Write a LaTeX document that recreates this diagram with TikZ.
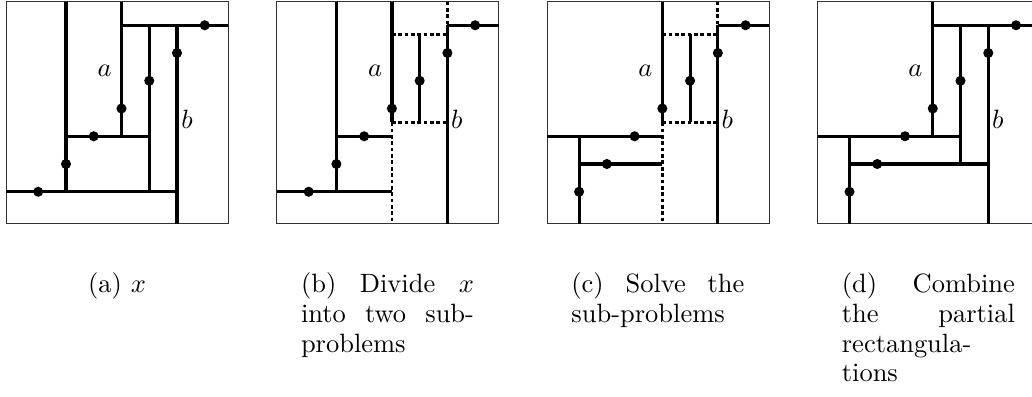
\documentclass[tikz,border=0pt]{standalone}
\newcommand\mycap[1]{\parbox[t]{65.36pt}{\fontsize{10}{11.2}\selectfont\tolerance=10000\hbadness=10000\hyphenpenalty=10000\exhyphenpenalty=10000 #1}}
\begin{document}
\begin{tikzpicture}[x=10.484pt,y=10.484pt,
  frame/.style={line width=0.5pt,draw=black!80},
  seg/.style={line width=1.2pt},
  cut/.style={line width=1.05pt,dash pattern=on 1.4pt off 1.0pt},
  lbl/.style={inner sep=0pt,font=\fontsize{10}{11.2}\selectfont},
  captext/.style={anchor=base west,inner sep=0pt},
  dotr/.style={fill=black}]
\useasboundingbox (0,0) rectangle (37.189,14.270);

% ---------- panel (a)
\begin{scope}[shift={(0.378,6.360)}]
 \draw[frame] (-0.15,-0.15) rectangle (7.85,7.85);
 \draw[seg] (2,7.85) -- (2,1);
 \draw[seg] (4,7.85) -- (4,3);
 \draw[seg] (4,7) -- (7.85,7);
 \draw[seg] (5,7) -- (5,1);
 \draw[seg] (6,7) -- (6,-0.15);
 \draw[seg] (2,3) -- (5,3);
 \draw[seg] (-0.15,1) -- (6,1);
 \foreach \i in {1,...,7} \fill[dotr] (\i,\i) circle[radius=1.9pt];
 \node[lbl] (aA) at (3.39,5.36) {$a$};
 \node[lbl] (aB) at (6.36,3.61) {$b$};
\end{scope}

% ---------- panel (b)
\begin{scope}[shift={(10.123,6.360)}]
 \draw[frame] (-0.15,-0.15) rectangle (7.85,7.85);
 \draw[seg] (2,7.85) -- (2,1);
 \draw[seg] (2,3) -- (4,3);
 \draw[seg] (-0.15,1) -- (4,1);
 \draw[seg] (4,7.85) -- (4,3.5);
 \draw[cut] (4,3.5) -- (4,-0.15);
 \draw[cut] (4,3.5) -- (6,3.5);
 \draw[cut] (4,6.68) -- (6,6.68);
 \draw[seg] (5,6.68) -- (5,3.5);
 \draw[cut] (6,7.85) -- (6,7);
 \draw[seg] (6,7) -- (6,-0.15);
 \draw[seg] (6,7) -- (7.85,7);
 \foreach \i in {1,...,7} \fill[dotr] (\i,\i) circle[radius=1.9pt];
 \node[lbl] (bA) at (3.39,5.36) {$a$};
 \node[lbl] (bB) at (6.34,3.61) {$b$};
\end{scope}

% ---------- panel (c)
\begin{scope}[shift={(19.868,6.360)}]
 \draw[frame] (-0.15,-0.15) rectangle (7.85,7.85);
 \draw[seg] (-0.15,3) -- (4,3);
 \draw[seg] (1,3) -- (1,-0.15);
 \draw[seg] (1,2) -- (4,2);
 \draw[seg] (4,7.85) -- (4,3.5);
 \draw[cut] (4,3.5) -- (4,-0.15);
 \draw[cut] (4,3.5) -- (6,3.5);
 \draw[cut] (4,6.68) -- (6,6.68);
 \draw[seg] (5,6.68) -- (5,3.5);
 \draw[cut] (6,7.85) -- (6,7);
 \draw[seg] (6,7) -- (6,-0.15);
 \draw[seg] (6,7) -- (7.85,7);
 \foreach \i in {1,...,7} \fill[dotr] (\i,\i) circle[radius=1.9pt];
 \node[lbl] (cA) at (3.39,5.36) {$a$};
 \node[lbl] (cB) at (6.34,3.61) {$b$};
\end{scope}

% ---------- panel (d)
\begin{scope}[shift={(29.613,6.360)}]
 \draw[frame] (-0.15,-0.15) rectangle (7.85,7.85);
 \draw[seg] (4,7.85) -- (4,3);
 \draw[seg] (4,7) -- (7.85,7);
 \draw[seg] (5,7) -- (5,2);
 \draw[seg] (6,7) -- (6,-0.15);
 \draw[seg] (-0.15,3) -- (5,3);
 \draw[seg] (1,2) -- (6,2);
 \draw[seg] (1,3) -- (1,-0.15);
 \foreach \i in {1,...,7} \fill[dotr] (\i,\i) circle[radius=1.9pt];
 \node[lbl] (dA) at (3.37,5.36) {$a$};
 \node[lbl] (dB) at (6.34,3.61) {$b$};
\end{scope}

% ---------- captions
\node[anchor=base,inner sep=0pt,font=\fontsize{10}{11.2}\selectfont] (capa) at (4.218,3.712) {(a) $x$};
\node[captext] (capb) at (10.828,3.712) {\mycap{(b) Divide $x$\linebreak into two sub-\linebreak problems}};
\node[captext] (capc) at (20.573,3.712) {\mycap{(c) Solve the\linebreak sub-problems}};
\node[captext] (capd) at (30.318,3.712) {\mycap{(d) Combine\linebreak the partial\linebreak rectangula-\linebreak tions}};
\end{tikzpicture}
\end{document}
